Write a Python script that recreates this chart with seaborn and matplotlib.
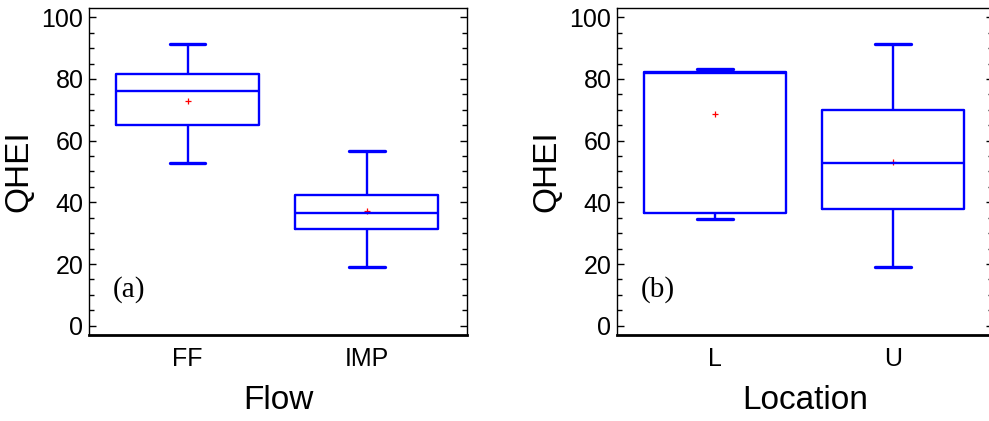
import numpy as np
import matplotlib
matplotlib.use("Agg")
import matplotlib.pyplot as plt
import matplotlib.ticker as mticker
import seaborn as sns

# five-number summaries: whisker low, Q1, median, Q3, whisker high
flow_groups = ["FF", "IMP"]
flow_stats = [
    [52.8, 65.2, 76.0, 81.5, 91.2],
    [19.0, 31.4, 36.6, 42.3, 56.7],
]
flow_means = [72.8, 37.1]

loc_groups = ["L", "U"]
loc_stats = [
    [34.5, 36.6, 81.9, 82.1, 83.1],
    [19.0, 38.0, 52.8, 70.0, 91.2],
]
loc_means = [68.5, 53.0]

BLUE = "#0000ff"
RED = "#ff0000"

sns.set_style("ticks")
plt.rcParams["font.family"] = ["Liberation Sans", "DejaVu Sans"]
plt.rcParams["text.color"] = "black"
plt.rcParams["axes.labelcolor"] = "black"
plt.rcParams["xtick.color"] = "black"
plt.rcParams["ytick.color"] = "black"

fig = plt.figure(figsize=(9.89, 4.21), dpi=100)
ax_a = fig.add_axes([89 / 989, 86 / 421, 378 / 989, 327 / 421])
ax_b = fig.add_axes([617 / 989, 86 / 421, 376 / 989, 327 / 421])


def draw_panel(ax, groups, stats, means, xlabel, tag):
    rows = []
    for g, s in zip(groups, stats):
        rows += [(g, v) for v in s]
    x = [r[0] for r in rows]
    y = [r[1] for r in rows]
    sns.boxplot(x=x, y=y, order=groups, ax=ax, fill=False, width=0.8,
                color=BLUE, linecolor=BLUE, whis=(0, 100), linewidth=1.7,
                capwidths=0.2, showfliers=False,
                capprops={"linewidth": 2.4})
    ax.plot(range(len(means)), means, linestyle="none", marker="+",
            color=RED, markersize=4, markeredgewidth=0.9)

    ax.set_ylim(-3, 103)
    ax.set_xlim(-0.55, 1.56)
    ax.yaxis.set_major_locator(mticker.MultipleLocator(20))
    ax.yaxis.set_minor_locator(mticker.MultipleLocator(5))
    ax.tick_params(axis="y", which="both", direction="in", left=True, right=True,
                   color="black", width=1, labelsize=18, pad=4)
    ax.tick_params(axis="y", which="major", length=5)
    ax.tick_params(axis="y", which="minor", length=3.5)
    ax.tick_params(axis="x", length=0, labelsize=18, pad=9)

    for side in ["left", "right", "top"]:
        ax.spines[side].set_visible(True)
        ax.spines[side].set_color("black")
        ax.spines[side].set_linewidth(1.0)
    ax.spines["bottom"].set_color("black")
    ax.spines["bottom"].set_linewidth(2.0)

    ax.set_ylabel("QHEI", fontsize=24, labelpad=5)
    ax.set_xlabel(xlabel, fontsize=24, labelpad=10)
    ax.text(0.063, 0.138, tag, transform=ax.transAxes, fontsize=21,
            family=["Liberation Serif", "DejaVu Serif"], va="center", ha="left")


draw_panel(ax_a, flow_groups, flow_stats, flow_means, "Flow", "(a)")
draw_panel(ax_b, loc_groups, loc_stats, loc_means, "Location", "(b)")

fig.savefig("out.png", dpi=100)
